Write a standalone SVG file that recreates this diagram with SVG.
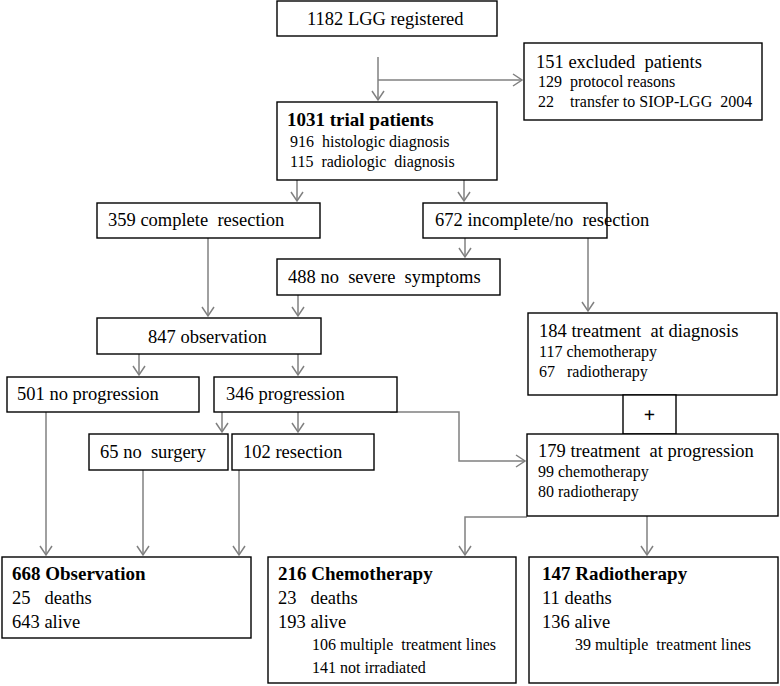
<svg xmlns="http://www.w3.org/2000/svg" width="780" height="686" viewBox="0 0 780 686">
<style>
.box{fill:#fff;stroke:#000;stroke-width:1.4}
.c{fill:none;stroke:#808080;stroke-width:1.5}
text{font-family:"Liberation Serif","Times New Roman",serif;fill:#000}
.m{font-size:18.5px}
.b{font-size:19px;font-weight:bold}
.s{font-size:16px}
</style>
<defs>
<marker id="ah" viewBox="-11 -8 13 16" markerWidth="13" markerHeight="16" refX="0" refY="0" orient="auto" markerUnits="userSpaceOnUse">
<path d="M-9,-6 L0,0 L-9,6" fill="none" stroke="#808080" stroke-width="1.5"/>
</marker>
</defs>
<rect width="780" height="686" fill="#fff"/>
<g id="connectors">
<path class="c" d="M378,57 V100" marker-end="url(#ah)"/>
<path class="c" d="M378,80 H522" marker-end="url(#ah)"/>
<path class="c" d="M297,180 V201" marker-end="url(#ah)"/>
<path class="c" d="M464,180 V201" marker-end="url(#ah)"/>
<path class="c" d="M208,238 V316" marker-end="url(#ah)"/>
<path class="c" d="M465,238 V257" marker-end="url(#ah)"/>
<path class="c" d="M298,295 V316" marker-end="url(#ah)"/>
<path class="c" d="M588,238 V311" marker-end="url(#ah)"/>
<path class="c" d="M139,354 V375" marker-end="url(#ah)"/>
<path class="c" d="M298,354 V375" marker-end="url(#ah)"/>
<path class="c" d="M222,412 V432" marker-end="url(#ah)"/>
<path class="c" d="M298,412 V432" marker-end="url(#ah)"/>
<path class="c" d="M390,412 H459 V461 H525" marker-end="url(#ah)"/>
<path class="c" d="M46,412 V555" marker-end="url(#ah)"/>
<path class="c" d="M143,470 V555" marker-end="url(#ah)"/>
<path class="c" d="M239,470 V555" marker-end="url(#ah)"/>
<path class="c" d="M527,517 H465 V555" marker-end="url(#ah)"/>
<path class="c" d="M647,516 V555" marker-end="url(#ah)"/>
</g>
<g id="n1182"><rect class="box" x="277" y="1" width="220" height="35"/><text class="m" x="307" y="25">1182 LGG registered</text></g>
<g id="n151"><rect class="box" x="524" y="43" width="238" height="77"/>
<text class="m" x="536" y="68" xml:space="preserve">151 excluded  patients</text>
<text class="s" x="538" y="87" xml:space="preserve">129  protocol reasons</text>
<text class="s" x="538" y="107" xml:space="preserve">22    transfer to SIOP-LGG  2004</text></g>
<g id="n1031"><rect class="box" x="277" y="102" width="220" height="78"/>
<text class="b" x="287" y="126">1031 trial patients</text>
<text class="s" x="290" y="147" xml:space="preserve">916  histologic diagnosis</text>
<text class="s" x="290" y="167" xml:space="preserve">115  radiologic  diagnosis</text></g>
<g id="n359"><rect class="box" x="97" y="203" width="223" height="35"/><text class="m" x="108" y="226" xml:space="preserve">359 complete  resection</text></g>
<g id="n672"><rect class="box" x="423" y="203" width="184" height="35"/><text class="m" x="435" y="226" xml:space="preserve">672 incomplete/no  resection</text></g>
<g id="n488"><rect class="box" x="277" y="259" width="223" height="36"/><text class="m" x="288" y="283" xml:space="preserve">488 no  severe  symptoms</text></g>
<g id="n847"><rect class="box" x="97" y="318" width="224" height="36"/><text class="m" x="148" y="343">847 observation</text></g>
<g id="n184"><rect class="box" x="528" y="313" width="249" height="82"/>
<text class="m" x="539" y="337" xml:space="preserve">184 treatment  at diagnosis</text>
<text class="s" x="539" y="357">117 chemotherapy</text>
<text class="s" x="539" y="377" xml:space="preserve">67   radiotherapy</text></g>
<g id="nplus"><rect class="box" x="623" y="395" width="53" height="39"/><text x="649.5" y="422" font-size="20" font-weight="bold" text-anchor="middle">+</text></g>
<g id="n179"><rect class="box" x="527" y="434" width="251" height="82"/>
<text class="m" x="538" y="457" xml:space="preserve">179 treatment  at progression</text>
<text class="s" x="538" y="477">99 chemotherapy</text>
<text class="s" x="538" y="497">80 radiotherapy</text></g>
<g id="n501"><rect class="box" x="7" y="377" width="192" height="35"/><text class="m" x="17" y="400">501 no progression</text></g>
<g id="n346"><rect class="box" x="214" y="377" width="183" height="35"/><text class="m" x="226" y="400">346 progression</text></g>
<g id="n65"><rect class="box" x="89" y="434" width="139" height="36"/><text class="m" x="100" y="458" xml:space="preserve">65 no  surgery</text></g>
<g id="n102"><rect class="box" x="232" y="434" width="142" height="36"/><text class="m" x="243" y="458">102 resection</text></g>
<g id="n668"><rect class="box" x="2" y="557" width="249" height="81"/>
<text class="b" x="12" y="580">668 Observation</text>
<text class="m" x="12" y="604" xml:space="preserve">25   deaths</text>
<text class="m" x="12" y="628">643 alive</text></g>
<g id="n216"><rect class="box" x="268" y="557" width="248" height="126"/>
<text class="b" x="278" y="580">216 Chemotherapy</text>
<text class="m" x="278" y="604" xml:space="preserve">23   deaths</text>
<text class="m" x="278" y="628">193 alive</text>
<text class="s" x="312" y="650" xml:space="preserve">106 multiple  treatment lines</text>
<text class="s" x="312" y="673">141 not irradiated</text></g>
<g id="n147"><rect class="box" x="529" y="557" width="249" height="126"/>
<text class="b" x="542" y="580">147 Radiotherapy</text>
<text class="m" x="542" y="604">11 deaths</text>
<text class="m" x="542" y="628">136 alive</text>
<text class="s" x="575" y="650" xml:space="preserve">39 multiple  treatment lines</text></g>
</svg>
